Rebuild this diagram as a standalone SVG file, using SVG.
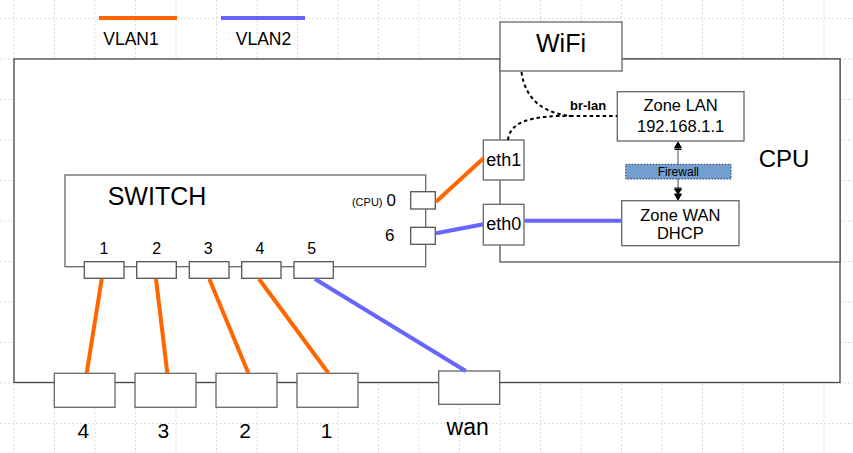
<svg xmlns="http://www.w3.org/2000/svg" width="853" height="453" viewBox="0 0 853 453">
<style>
  text { font-family: "Liberation Sans", Arial, sans-serif; fill: #000; }
  .grid { stroke: #dcdcdc; stroke-width: 1; stroke-dasharray: 2 2; fill: none; }
  .box { fill: #fff; stroke: #666; stroke-width: 1.3; }
  .port { fill: #fff; stroke: #555; stroke-width: 1.3; }
  .vlan1 { stroke: #ff6600; stroke-width: 4; fill: none; }
  .vlan2 { stroke: #6666ff; stroke-width: 4; fill: none; }
  .dash { stroke: #000; stroke-width: 2; stroke-dasharray: 3.5 3; fill: none; }
  .c { text-anchor: middle; }
</style>
<rect width="853" height="453" fill="#fff"/>
<path class="grid" d="M14 0V453 M54.5 0V453 M95 0V453 M135.5 0V453 M176 0V453 M216.5 0V453 M257 0V453 M297.5 0V453 M338 0V453 M378.5 0V453 M419 0V453 M459.5 0V453 M500 0V453 M540.5 0V453 M581 0V453 M621.5 0V453 M662 0V453 M702.5 0V453 M743 0V453 M783.5 0V453 M824 0V453 M0 18.5H853 M0 59H853 M0 99.5H853 M0 140H853 M0 180.5H853 M0 221H853 M0 261.5H853 M0 302H853 M0 342.5H853 M0 383H853 M0 423.5H853"/>

<g id="legend">
  <line class="vlan1" x1="99" y1="18" x2="177" y2="18"/>
  <text class="c" x="131" y="45" font-size="17.5">VLAN1</text>
  <line class="vlan2" x1="221" y1="18" x2="305" y2="18"/>
  <text class="c" x="263.5" y="45" font-size="17.5">VLAN2</text>
</g>

<g id="board">
  <rect x="14" y="59" width="826" height="323.5" fill="#fff" stroke="#444" stroke-width="1.3"/>
</g>
<g id="cpu">
  <rect x="500" y="59" width="340" height="203" fill="#fff" stroke="#555" stroke-width="1.3"/>
  <text class="c" x="784" y="167" font-size="24">CPU</text>
</g>
<g id="wifi">
  <rect class="box" x="500" y="22" width="122" height="49"/>
  <text class="c" x="561" y="52" font-size="25">WiFi</text>
</g>

<g id="switch">
  <rect class="box" x="65" y="175" width="360.7" height="91.7"/>
  <text class="c" x="157" y="205" font-size="25">SWITCH</text>
  <text x="382.5" y="205.5" font-size="11" text-anchor="end">(CPU)</text>
  <text x="386.5" y="206" font-size="17">0</text>
  <text x="385" y="240.5" font-size="17">6</text>
  <text class="c" x="104" y="253.5" font-size="16">1</text>
  <text class="c" x="156.7" y="253.5" font-size="16">2</text>
  <text class="c" x="208.3" y="253.5" font-size="16">3</text>
  <text class="c" x="260" y="253.5" font-size="16">4</text>
  <text class="c" x="311.7" y="253.5" font-size="16">5</text>
</g>
<g id="sw-port0"><rect class="port" x="410.7" y="191.7" width="24.6" height="17.3"/></g>
<g id="sw-port6"><rect class="port" x="410.7" y="227.3" width="24.6" height="17"/></g>
<g id="sw-port1"><rect class="port" x="84.3" y="261.7" width="39.7" height="16.6"/></g>
<g id="sw-port2"><rect class="port" x="136.7" y="261.7" width="39.6" height="16.6"/></g>
<g id="sw-port3"><rect class="port" x="189.3" y="261.7" width="39.7" height="16.6"/></g>
<g id="sw-port4"><rect class="port" x="241.7" y="261.7" width="39.3" height="16.6"/></g>
<g id="sw-port5"><rect class="port" x="294" y="261.7" width="39.3" height="16.6"/></g>

<g id="eth1">
  <rect class="box" x="483.3" y="140" width="40.7" height="40"/>
  <text class="c" x="503.7" y="166" font-size="18">eth1</text>
</g>
<g id="eth0">
  <rect class="box" x="483.3" y="204.3" width="40.7" height="40.7"/>
  <text class="c" x="503.7" y="230" font-size="18">eth0</text>
</g>

<g id="zone-lan">
  <rect class="box" x="617.3" y="91.7" width="126.7" height="49.3"/>
  <text class="c" x="680.6" y="111" font-size="16.5">Zone LAN</text>
  <text class="c" x="680.6" y="131.5" font-size="16.5">192.168.1.1</text>
</g>
<g id="zone-wan">
  <rect class="box" x="621.7" y="200.7" width="117.3" height="45"/>
  <text class="c" x="680.3" y="221" font-size="16.5">Zone WAN</text>
  <text class="c" x="680.3" y="238.5" font-size="16.5">DHCP</text>
</g>

<g id="ext-4">
  <rect class="box" x="54.3" y="373.3" width="60.7" height="34"/>
  <text class="c" x="83.3" y="438" font-size="21">4</text>
</g>
<g id="ext-3">
  <rect class="box" x="135" y="373.3" width="61" height="34"/>
  <text class="c" x="163.3" y="438" font-size="21">3</text>
</g>
<g id="ext-2">
  <rect class="box" x="216" y="373.3" width="61" height="34"/>
  <text class="c" x="245" y="438" font-size="21">2</text>
</g>
<g id="ext-1">
  <rect class="box" x="297" y="373.3" width="61" height="34"/>
  <text class="c" x="326.7" y="438" font-size="21">1</text>
</g>
<g id="ext-wan">
  <rect class="box" x="438.7" y="371" width="61" height="33.3"/>
  <text class="c" x="467.7" y="435" font-size="23">wan</text>
</g>

<g id="connectors">
  <line class="vlan1" x1="101.7" y1="279" x2="86.7" y2="373"/>
  <line class="vlan1" x1="156" y1="279" x2="167.3" y2="373"/>
  <line class="vlan1" x1="209.3" y1="279" x2="248.3" y2="373"/>
  <line class="vlan1" x1="259" y1="279" x2="328.3" y2="373"/>
  <line class="vlan2" x1="315" y1="279" x2="465.7" y2="371"/>
  <line class="vlan1" x1="436" y1="201.7" x2="483.5" y2="158.3"/>
  <line class="vlan2" x1="436" y1="233.3" x2="483.5" y2="224.3"/>
  <line class="vlan2" x1="524.5" y1="220.7" x2="621.5" y2="220.7"/>
  <path class="dash" d="M521.5 72 C525 100 545 115 575 116 L617 116"/>
  <path class="dash" d="M508 140 C510 122 530 115 575 116"/>
  <text x="570" y="110" font-size="13" font-weight="bold">br-lan</text>
  <line x1="678" y1="143" x2="678" y2="199" stroke="#777" stroke-width="1.3"/>
  <path d="M678 142 L674.5 148 L681.5 148 Z M674.5 149.5 H681.5" fill="#000" stroke="#000" stroke-width="1"/>
  <path d="M674.5 188 H681.5 M674.5 189 L681.5 189 L678 194 Z M674.5 194 L681.5 194 L678 200 Z" fill="#000" stroke="#000" stroke-width="1"/>
</g>

<g id="firewall">
  <rect x="625.7" y="164.3" width="105.3" height="14.7" fill="#729fcf" stroke="#335" stroke-width="1" stroke-dasharray="1.5 1.5"/>
  <text class="c" x="678.3" y="175.5" font-size="12" fill="#222">Firewall</text>
</g>
</svg>
